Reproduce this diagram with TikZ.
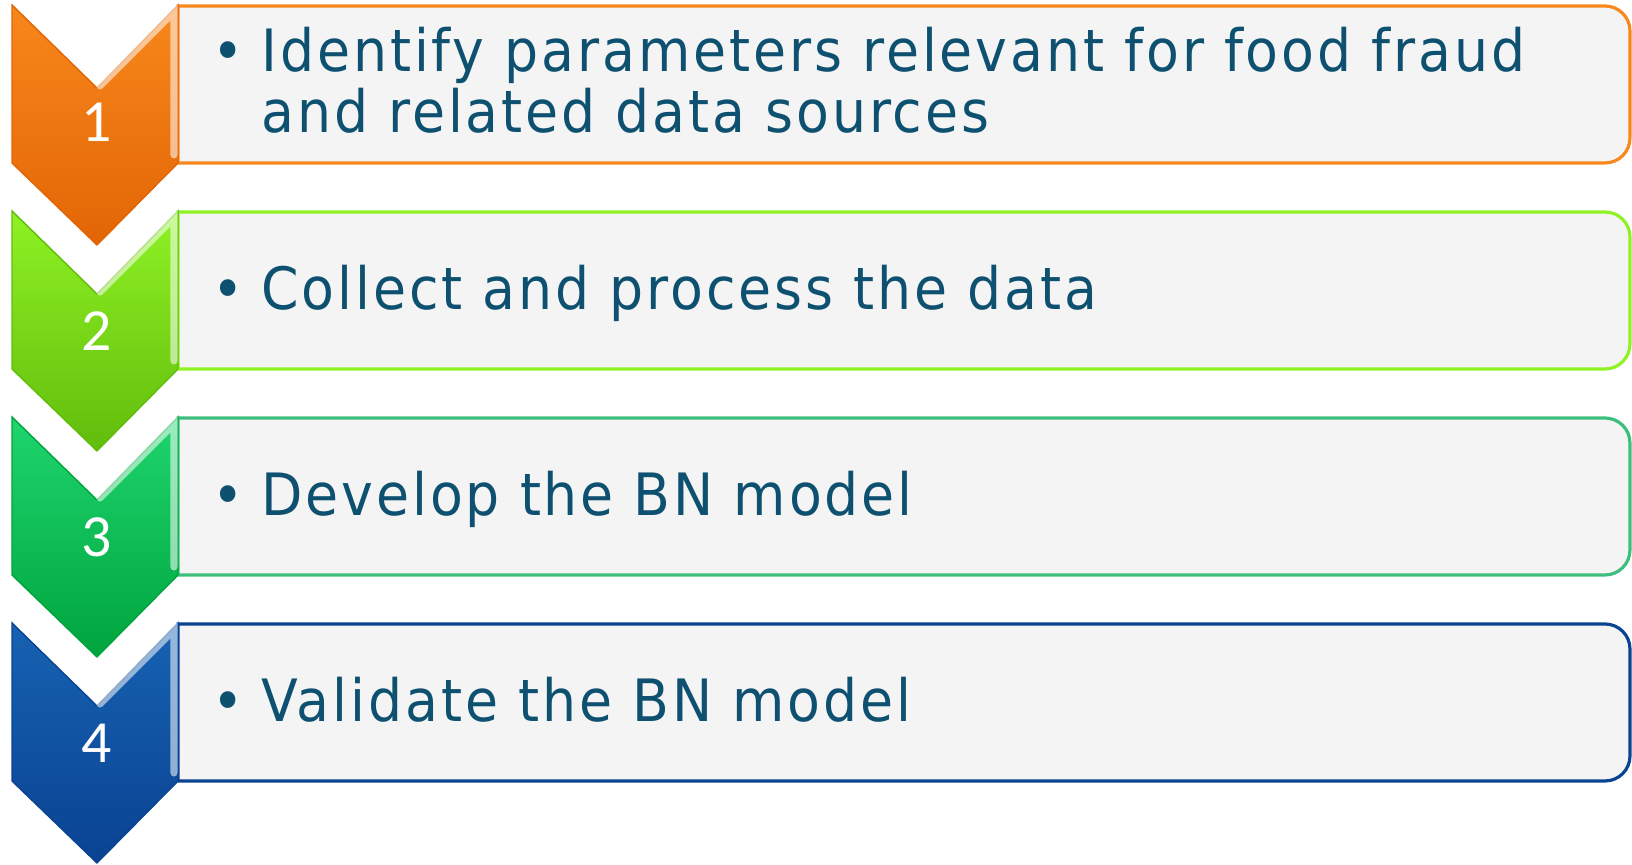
\documentclass[tikz,border=0pt]{standalone}
\usepackage{fontspec}
\newfontfamily\stepfont[FakeStretch=0.92,LetterSpace=5]{DejaVu Sans}
\newfontfamily\numfont{Carlito}
\definecolor{txtblue}{HTML}{0E5070}
\definecolor{boxfill}{HTML}{F4F4F4}
\definecolor{orangeA}{HTML}{F8871C}
\definecolor{orangeB}{HTML}{E26505}
\definecolor{limeA}{HTML}{8EF224}
\definecolor{limeB}{HTML}{62BC0C}
\definecolor{greenA}{HTML}{1FD56E}
\definecolor{greenB}{HTML}{00A43E}
\definecolor{greenC}{HTML}{3CBF7C}
\definecolor{blueA}{HTML}{1762B2}
\definecolor{blueB}{HTML}{094392}
\begin{document}
\begin{tikzpicture}[
    x=0.01cm, y=-0.01cm,
    panel/.style={line width=0.9pt, fill=boxfill},
    chevron/.style={line width=0.4pt},
    gloss/.style={white, line width=2pt, opacity=0.55, line cap=round},
    num/.style={text=white, font=\numfont\fontsize{17}{17}\selectfont},
    bullet/.style={text=txtblue, font=\stepfont\fontsize{16.4}{17}\selectfont},
    steptext/.style={text=txtblue, align=left, font=\stepfont\fontsize{16.6}{17.4}\selectfont}
]
    \useasboundingbox (0,0) rectangle (1632,865);

    % Step 1
    \draw[panel, draw=orangeA] (178,6) [rounded corners=0.25cm] -- (1630,6) -- (1630,163) [sharp corners] -- (178,163) -- cycle;
    \draw[chevron, draw=orangeB, top color=orangeA, bottom color=orangeB] (12,5) -- (97,88) -- (178,5) -- (178,163) -- (97,245) -- (12,163) -- cycle;
    \draw[gloss] (100,86) -- (174,12) -- (174,155);
    \node[num, anchor=base] (n1) at (97,142) {1};
    \node[bullet, anchor=base] (b1) at (228,72) {•};
    \node[steptext, anchor=base west] (t1) at (249,133) {Identify parameters relevant for food fraud\\and related data sources};

    % Step 2
    \draw[panel, draw=limeA] (178,212) [rounded corners=0.25cm] -- (1630,212) -- (1630,369) [sharp corners] -- (178,369) -- cycle;
    \draw[chevron, draw=limeB, top color=limeA, bottom color=limeB] (12,211) -- (97,294) -- (178,211) -- (178,369) -- (97,451) -- (12,369) -- cycle;
    \draw[gloss] (100,292) -- (174,218) -- (174,361);
    \node[num, anchor=base] (n2) at (97,351) {2};
    \node[bullet, anchor=base] (b2) at (228,310) {•};
    \node[steptext, anchor=base west] (t2) at (249,310) {Collect and process the data};

    % Step 3
    \draw[panel, draw=greenC] (178,418) [rounded corners=0.25cm] -- (1630,418) -- (1630,575) [sharp corners] -- (178,575) -- cycle;
    \draw[chevron, draw=greenB, top color=greenA, bottom color=greenB] (12,417) -- (97,500) -- (178,417) -- (178,575) -- (97,657) -- (12,575) -- cycle;
    \draw[gloss] (100,498) -- (174,424) -- (174,567);
    \node[num, anchor=base] (n3) at (97,557) {3};
    \node[bullet, anchor=base] (b3) at (228,516) {•};
    \node[steptext, anchor=base west] (t3) at (249,516) {Develop the BN model};

    % Step 4
    \draw[panel, draw=blueB] (178,624) [rounded corners=0.25cm] -- (1630,624) -- (1630,781) [sharp corners] -- (178,781) -- cycle;
    \draw[chevron, draw=blueB, top color=blueA, bottom color=blueB] (12,623) -- (97,706) -- (178,623) -- (178,781) -- (97,863) -- (12,781) -- cycle;
    \draw[gloss] (100,704) -- (174,630) -- (174,773);
    \node[num, anchor=base] (n4) at (97,763) {4};
    \node[bullet, anchor=base] (b4) at (228,722) {•};
    \node[steptext, anchor=base west] (t4) at (249,722) {Validate the BN model};
\end{tikzpicture}
\end{document}
